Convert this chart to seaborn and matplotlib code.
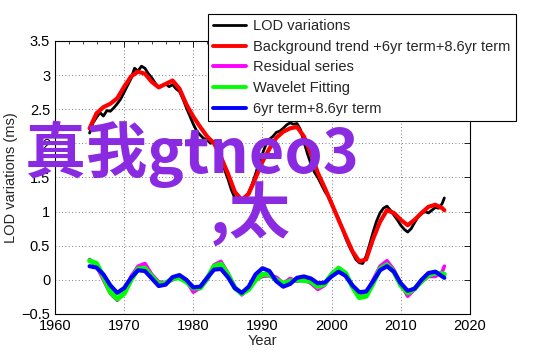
import matplotlib
matplotlib.use("Agg")
import matplotlib.pyplot as plt
import seaborn as sns
import numpy as np

# ---------------- data ----------------
lod_years = [1965.0, 1965.5, 1966.0, 1966.5, 1967.0, 1967.5, 1968.0, 1968.5, 1969.0, 1969.5,
             1970.0, 1970.5, 1971.0, 1971.5, 1972.0, 1972.5, 1973.0, 1973.5, 1974.0, 1974.5,
             1975.0, 1975.5, 1976.0, 1976.5, 1977.0, 1977.5, 1978.0, 1978.5, 1979.0, 1979.5,
             1980.0, 1980.5, 1981.0, 1981.5, 1982.0, 1982.5, 1983.0, 1983.5, 1984.0, 1984.5,
             1985.0, 1985.5, 1986.0, 1986.5, 1987.0, 1987.5, 1988.0, 1988.5, 1989.0, 1989.5,
             1990.0, 1990.5, 1991.0, 1991.5, 1992.0, 1992.5, 1993.0, 1993.5, 1994.0, 1994.5,
             1995.0, 1995.5, 1996.0, 1996.5, 1997.0, 1997.5, 1998.0, 1998.5, 1999.0, 1999.5,
             2000.0, 2000.5, 2001.0, 2001.5, 2002.0, 2002.5, 2003.0, 2003.5, 2004.0, 2004.5,
             2005.0, 2005.5, 2006.0, 2006.5, 2007.0, 2007.5, 2008.0, 2008.5, 2009.0, 2009.5,
             2010.0, 2010.5, 2011.0, 2011.5, 2012.0, 2012.5, 2013.0, 2013.5, 2014.0, 2014.5,
             2015.0, 2015.5, 2016.0, 2016.3]
lod_values = [2.15, 2.30, 2.38, 2.45, 2.40, 2.48, 2.47, 2.52, 2.58, 2.65,
              2.75, 2.85, 2.95, 3.10, 3.06, 3.13, 3.10, 3.02, 2.96, 2.88,
              2.82, 2.85, 2.87, 2.83, 2.86, 2.80, 2.76, 2.65, 2.52, 2.40,
              2.28, 2.18, 2.12, 2.07, 2.05, 2.00, 2.03, 1.92, 1.78, 1.62,
              1.48, 1.32, 1.20, 1.14, 1.16, 1.18, 1.28, 1.40, 1.55, 1.72,
              1.85, 1.98, 2.06, 2.10, 2.16, 2.18, 2.22, 2.27, 2.30, 2.28,
              2.29, 2.20, 2.02, 1.85, 1.70, 1.58, 1.50, 1.40, 1.30, 1.22,
              1.10, 1.00, 0.90, 0.76, 0.62, 0.50, 0.40, 0.30, 0.25, 0.24,
              0.35, 0.52, 0.70, 0.86, 0.98, 1.05, 1.08, 1.02, 0.95, 0.88,
              0.80, 0.74, 0.70, 0.75, 0.84, 0.92, 0.97, 1.00, 0.98, 1.02,
              1.06, 1.05, 1.12, 1.20]

years = [1965, 1966, 1967, 1968, 1969, 1970, 1971, 1972, 1973, 1974,
         1975, 1976, 1977, 1978, 1979, 1980, 1981, 1982, 1983, 1984,
         1985, 1986, 1987, 1988, 1989, 1990, 1991, 1992, 1993, 1994,
         1995, 1996, 1997, 1998, 1999, 2000, 2001, 2002, 2003, 2004,
         2005, 2006, 2007, 2008, 2009, 2010, 2011, 2012, 2013, 2014,
         2015, 2016, 2016.3]

background = [2.22, 2.44, 2.53, 2.58, 2.66, 2.83, 2.98, 3.05, 3.02, 2.90,
              2.82, 2.87, 2.92, 2.80, 2.57, 2.39, 2.24, 2.10, 2.00, 1.80,
              1.56, 1.29, 1.17, 1.26, 1.49, 1.73, 1.92, 2.08, 2.17, 2.22,
              2.24, 2.10, 1.85, 1.57, 1.35, 1.12, 0.88, 0.65, 0.42, 0.27,
              0.30, 0.60, 0.85, 1.02, 0.98, 0.88, 0.80, 0.88, 0.98, 1.07,
              1.10, 1.05, 1.02]

residual = [0.30, 0.20, 0.00, -0.20, -0.30, -0.18, 0.05, 0.20, 0.24, 0.08,
            -0.03, -0.04, 0.00, 0.05, -0.02, -0.18, -0.12, 0.00, 0.22, 0.27,
            0.10, -0.10, -0.22, -0.12, 0.00, 0.05, 0.06, 0.04, -0.05, 0.02,
            -0.02, 0.00, -0.05, -0.14, -0.08, 0.08, 0.18, 0.10, -0.10, -0.22,
            -0.22, 0.00, 0.20, 0.28, 0.15, -0.06, -0.24, -0.14, -0.03, 0.05,
            0.05, 0.12, 0.20]

wavelet = [0.28, 0.24, 0.05, -0.18, -0.28, -0.20, 0.00, 0.16, 0.17, 0.05,
           -0.06, -0.05, 0.02, 0.03, -0.03, -0.12, -0.12, 0.02, 0.20, 0.23,
           0.08, -0.12, -0.20, -0.14, 0.00, 0.08, 0.08, 0.00, -0.05, -0.02,
           0.00, -0.01, -0.02, -0.10, -0.06, 0.08, 0.17, 0.10, -0.10, -0.26,
           -0.24, -0.05, 0.16, 0.22, 0.12, -0.08, -0.19, -0.13, -0.02, 0.07,
           0.10, 0.09, 0.08]

terms = [0.20, 0.18, 0.08, -0.08, -0.19, -0.12, 0.03, 0.14, 0.13, 0.02,
         -0.09, -0.07, 0.04, 0.07, 0.00, -0.11, -0.10, 0.03, 0.15, 0.16,
         0.04, -0.12, -0.19, -0.10, 0.08, 0.17, 0.13, -0.02, -0.10, -0.06,
         0.03, 0.05, 0.02, -0.05, -0.04, 0.05, 0.12, 0.06, -0.08, -0.18,
         -0.17, -0.02, 0.14, 0.20, 0.12, -0.05, -0.16, -0.13, 0.00, 0.10,
         0.12, 0.05, 0.03]

labels = ["LOD variations", "Background trend +6yr term+8.6yr term",
          "Residual series", "Wavelet Fitting", "6yr term+8.6yr term"]
x_ticks = [1960, 1970, 1980, 1990, 2000, 2010, 2020]
y_ticks = [-0.5, 0, 0.5, 1, 1.5, 2, 2.5, 3, 3.5]
y_ticklabels = ['\u22120.5', '0', '0.5', '1', '1.5', '2', '2.5', '3', '3.5']

# ---------------- style ----------------
sns.set_style("white")
plt.rcParams['font.family'] = ['Liberation Sans', 'DejaVu Sans']
plt.rcParams['lines.solid_joinstyle'] = 'round'
plt.rcParams['lines.solid_capstyle'] = 'round'

fig = plt.figure(figsize=(5.42, 3.56), dpi=100)
ax = fig.add_axes([0.1015, 0.118, 0.7655, 0.767])

sns.lineplot(x=lod_years, y=lod_values, ax=ax, color='black', lw=2.0, label=labels[0], sort=False)
sns.lineplot(x=years, y=background, ax=ax, color='#ff0000', lw=3.0, label=labels[1], sort=False)
sns.lineplot(x=years, y=residual, ax=ax, color='#ff00ff', lw=2.6, label=labels[2], sort=False)
sns.lineplot(x=years, y=wavelet, ax=ax, color='#00ff00', lw=3.6, label=labels[3], sort=False)
sns.lineplot(x=years, y=terms, ax=ax, color='#0000ff', lw=3.0, label=labels[4], sort=False)

ax.set_xlim(1960, 2020)
ax.set_ylim(-0.5, 3.5)
ax.set_xticks(x_ticks)
ax.set_yticks(y_ticks)
ax.set_yticklabels(y_ticklabels)
ax.set_xticks(np.arange(1960, 2021, 2), minor=True)
ax.tick_params(axis='both', which='both', direction='in', top=True, right=True,
               labelsize=10.5, colors='black')
ax.tick_params(which='major', length=4, width=0.6)
ax.tick_params(which='minor', length=2, width=0.5)
ax.grid(True, which='major', linestyle=(0, (1, 3)), color='#555555', lw=0.6)
for s in ax.spines.values():
    s.set_color('black')
    s.set_linewidth(0.8)
ax.set_xlabel('Year', fontsize=10.5, labelpad=1)
ax.set_ylabel('LOD variations (ms)', fontsize=10.5, labelpad=2)

h, l = ax.get_legend_handles_labels()
ax.get_legend().remove()
leg = fig.legend(h, l, loc='upper left', bbox_to_anchor=(0.383, 0.962),
                 fontsize=10.5, frameon=True, fancybox=False, edgecolor='black',
                 framealpha=1, borderpad=0.4, labelspacing=0.45,
                 handlelength=2.2, handletextpad=0.5, borderaxespad=0)
leg.get_frame().set_linewidth(0.8)
for line in leg.get_lines():
    line.set_linewidth(2.8)
leg.get_lines()[0].set_linewidth(2.0)

# watermark overlay text
wm_font = ['Noto Sans CJK SC', 'DejaVu Sans']
fig.text(25 / 542, 1 - 154 / 356, '真我gtneo3', family=wm_font, fontsize=44,
         fontweight='bold', color='#8A2BE2', va='center', ha='left')
fig.text(210 / 542, 1 - 214 / 356, ',太', family=wm_font, fontsize=44,
         fontweight='bold', color='#8A2BE2', va='center', ha='left')

fig.savefig('out.png', dpi=100)
